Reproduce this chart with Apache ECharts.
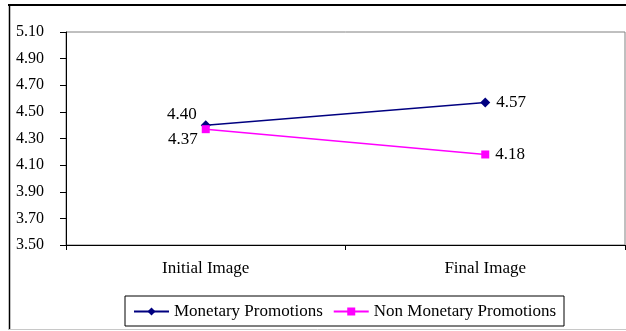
<!DOCTYPE html>
<html>
<head>
<meta charset="utf-8">
<style>
  html, body { margin: 0; padding: 0; background: #ffffff; }
  #chart { width: 626px; height: 331px; }
</style>
<script src="https://cdn.jsdelivr.net/npm/echarts@6/dist/echarts.min.js"></script>
</head>
<body>
<div id="chart"></div>
<script>
// Image ratings before and after the promotion
const categories = ['Initial Image', 'Final Image'];
const monetary = [4.40, 4.57];
const nonMonetary = [4.37, 4.18];
const yMin = 3.5, yMax = 5.1, yStep = 0.2;

const FONT = '"Liberation Serif", "Times New Roman", serif';
const SIZE = 16;

const chart = echarts.init(document.getElementById('chart'), null, { renderer: 'canvas' });

function labelled(values, firstPos) {
  return values.map((v, i) => ({
    value: v,
    label: i === 0 ? firstPos : { position: 'right', distance: 6 }
  }));
}

chart.setOption({
  animation: false,
  backgroundColor: '#ffffff',
  grid: {
    left: 66, right: 1, top: 32, bottom: 86,
    show: true, borderColor: '#808080', borderWidth: 1, backgroundColor: 'transparent'
  },
  legend: {
    left: 125, top: 296,
    padding: [7, 8, 6, 8],
    itemGap: 10,
    itemWidth: 35, itemHeight: 10,
    borderColor: '#000000', borderWidth: 1,
    textStyle: { fontFamily: FONT, fontSize: 17, color: '#000000' },
    data: ['Monetary Promotions', 'Non Monetary Promotions']
  },
  xAxis: {
    type: 'category',
    data: categories,
    boundaryGap: true,
    axisLine: { lineStyle: { color: '#000000', width: 1 } },
    axisTick: { show: true, alignWithLabel: false, length: 5, lineStyle: { color: '#000000' } },
    axisLabel: { fontFamily: FONT, fontSize: 17, color: '#000000', margin: 15 }
  },
  yAxis: {
    type: 'value',
    min: yMin, max: yMax, interval: yStep,
    axisLine: { show: true, lineStyle: { color: '#000000', width: 1 } },
    axisTick: { show: true, length: 6, lineStyle: { color: '#000000' } },
    splitLine: { show: false },
    axisLabel: {
      fontFamily: FONT, fontSize: SIZE, color: '#000000', margin: 22,
      formatter: v => v.toFixed(2)
    }
  },
  series: [
    {
      name: 'Monetary Promotions',
      type: 'line',
      data: labelled(monetary, { position: 'left', distance: 0, offset: [-4, -11] }),
      symbol: 'diamond', symbolSize: 10,
      lineStyle: { color: '#000080', width: 1.5 },
      itemStyle: { color: '#000080' },
      label: {
        show: true, fontFamily: FONT, fontSize: 17, color: '#000000',
        formatter: p => p.value.toFixed(2)
      }
    },
    {
      name: 'Non Monetary Promotions',
      type: 'line',
      data: labelled(nonMonetary, { position: 'left', distance: 0, offset: [-4, 10] }),
      symbol: 'rect', symbolSize: 8,
      lineStyle: { color: '#ff00ff', width: 1.5 },
      itemStyle: { color: '#ff00ff' },
      label: {
        show: true, fontFamily: FONT, fontSize: 17, color: '#000000',
        formatter: p => p.value.toFixed(2)
      }
    }
  ],
  graphic: [
    // outer chart frame
    { type: 'line', shape: { x1: 8, y1: 5, x2: 626, y2: 5 }, style: { stroke: '#000000', lineWidth: 2 } },
    { type: 'line', shape: { x1: 9.5, y1: 4, x2: 9.5, y2: 330 }, style: { stroke: '#000000', lineWidth: 1.5 } },
    { type: 'line', shape: { x1: 9, y1: 329.5, x2: 626, y2: 329.5 }, style: { stroke: '#c8c8c8', lineWidth: 1 } }
  ]
});
</script>
</body>
</html>
